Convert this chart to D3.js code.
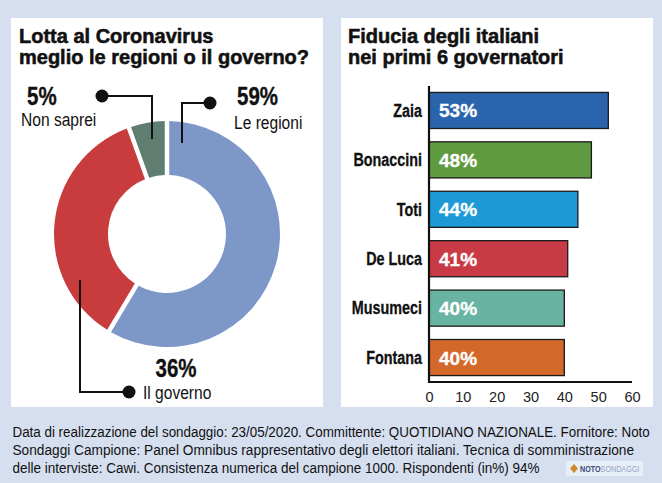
<!DOCTYPE html>
<html><head><meta charset="utf-8">
<script src="https://cdn.jsdelivr.net/npm/d3@7"></script>
<style>
html,body{margin:0;padding:0;background:#d6dff0;}
svg{display:block;}
</style></head>
<body>
<svg id="c" width="662" height="483"></svg>
<script>
// ---- data ----
const donutLabels = ["Le regioni", "Il governo", "Non saprei"];
const donutValues = [59, 36, 5];
const donutColors = ["#7d97c9", "#c83c3e", "#5f7d70"];

const barNames = ["Zaia", "Bonaccini", "Toti", "De Luca", "Musumeci", "Fontana"];
const barValues = [53, 48, 44, 41, 40, 40];
const barColors = ["#2a64ad", "#5e9a3f", "#1d9ad6", "#c93b44", "#69b3a2", "#d3682b"];
const xTicks = [0, 10, 20, 30, 40, 50, 60];

const leftTitle = ["Lotta al Coronavirus", "meglio le regioni o il governo?"];
const rightTitle = ["Fiducia degli italiani", "nei primi 6 governatori"];
const footerLines = [
  "Data di realizzazione del sondaggio: 23/05/2020. Committente: QUOTIDIANO NAZIONALE. Fornitore: Noto",
  "Sondaggi Campione: Panel Omnibus rappresentativo degli elettori italiani. Tecnica di somministrazione",
  "delle interviste: Cawi.  Consistenza numerica del campione 1000. Rispondenti (in%) 94%"
];

const SANS = "'Liberation Sans',Arial,sans-serif";
const NARROW_K = 0.82; // horizontal squeeze that turns Arial metrics into a narrow face

const svg = d3.select("#c");
svg.append("rect").attr("width", 662).attr("height", 483).attr("fill", "#d6dff0");

// panels
svg.append("rect").attr("x", 11).attr("y", 18).attr("width", 312).attr("height", 389).attr("fill", "#fff");
svg.append("rect").attr("x", 341).attr("y", 18).attr("width", 312).attr("height", 389).attr("fill", "#fff");

// narrow text helper: text drawn at origin, then squeezed horizontally
function narrow(parent, x, y, str, size, bold, anchor, k) {
  const t = parent.append("text")
    .attr("transform", `translate(${x},${y}) scale(${k || NARROW_K},1)`)
    .attr("font-family", SANS).attr("font-size", size)
    .attr("font-weight", bold ? "bold" : "normal")
    .attr("text-anchor", anchor || "start").attr("fill", "#111")
    .text(str);
  if (bold) t.attr("stroke", "#111").attr("stroke-width", 0.35);
  return t;
}

function title(lines, x) {
  svg.append("g").selectAll("text").data(lines).join("text")
    .attr("x", x).attr("y", (d, i) => 43 + i * 20.5)
    .attr("font-family", SANS).attr("font-weight", "bold").attr("font-size", 20)
    .attr("fill", "#111").attr("stroke", "#111").attr("stroke-width", 0.55)
    .text(d => d);
}
title(leftTitle, 19);
title(rightTitle, 348);

// ---- donut ----
const cx = 167, cy = 234;
const pie = d3.pie().sort(null).value(d => d).padAngle(0.035);
const arc = d3.arc().innerRadius(59).outerRadius(113);
const dg = svg.append("g").attr("transform", `translate(${cx},${cy})`);
dg.selectAll("path").data(pie(donutValues)).join("path")
  .attr("d", arc).attr("fill", (d, i) => donutColors[i]);

// leader lines
const lg = svg.append("g").attr("fill", "none").attr("stroke", "#111").attr("stroke-width", 2);
lg.append("path").attr("d", "M102,96 H152 V139");
lg.append("path").attr("d", "M210,103 H182 V143");
lg.append("path").attr("d", "M80,280 V392 H129");
svg.append("g").selectAll("circle").data([[102, 96], [210, 103], [129, 392]]).join("circle")
  .attr("cx", d => d[0]).attr("cy", d => d[1]).attr("r", 6.5).attr("fill", "#111");

// donut labels
narrow(svg, 27, 105, donutValues[2] + "%", 25, true);
narrow(svg, 21, 126, donutLabels[2], 19, false);
narrow(svg, 237, 105, donutValues[0] + "%", 25, true);
narrow(svg, 234, 129, donutLabels[0], 19, false);
narrow(svg, 176, 377, donutValues[1] + "%", 25, true, "middle");
narrow(svg, 143, 399, donutLabels[1], 19, false);

// ---- bars ----
const x = d3.scaleLinear().domain([0, 60]).range([429, 632]);
const y = d3.scaleBand().domain(barNames).range([86, 382]).paddingInner(0.27).paddingOuter(0.13);

const bg = svg.append("g");
bg.selectAll("rect").data(barNames).join("rect")
  .attr("x", x(0)).attr("y", d => y(d))
  .attr("width", (d, i) => x(barValues[i]) - x(0)).attr("height", y.bandwidth())
  .attr("fill", (d, i) => barColors[i]).attr("stroke", "#1a1a1a").attr("stroke-width", 1.3);
bg.selectAll("text.v").data(barNames).join("text").attr("class", "v")
  .attr("x", x(0) + 10).attr("y", d => y(d) + y.bandwidth() / 2 + 7)
  .attr("font-family", SANS).attr("font-weight", "bold").attr("font-size", 19)
  .attr("fill", "#fff").attr("stroke", "#fff").attr("stroke-width", 0.3)
  .text((d, i) => barValues[i] + "%");

// y axis
const ya = svg.append("g").attr("transform", `translate(${x(0)},0)`)
  .call(d3.axisLeft(y).tickSize(0).tickPadding(7));
ya.select(".domain").attr("stroke", "#111").attr("stroke-width", 2.2).attr("d", "M0,86V383");
ya.selectAll(".tick text").attr("font-family", SANS).attr("font-weight", "bold")
  .attr("font-size", 17.5).attr("fill", "#111").attr("stroke", "#111").attr("stroke-width", 0.3)
  .attr("dy", "0.36em").attr("x", -7 / NARROW_K)
  .attr("transform", `scale(${NARROW_K},1)`);

// x axis
const xa = svg.append("g").attr("transform", "translate(0,382)")
  .call(d3.axisBottom(x).tickValues(xTicks).tickSize(0).tickPadding(10));
xa.select(".domain").attr("stroke", "#111").attr("stroke-width", 2.2).attr("d", "M428,0H632");
xa.selectAll("text").attr("font-family", SANS).attr("font-size", 14.5).attr("fill", "#222");

// ---- footer ----
const fw = [638, 622, 528];
const fg = svg.append("g");
footerLines.forEach((line, i) => {
  const t = narrow(fg, 12.5, 437 + i * 18, line, 15.5, false, "start", 1);
  const w = t.node().getComputedTextLength();
  t.attr("transform", `translate(12.5,${437 + i * 18}) scale(${fw[i] / w},1)`);
});

// logo
const logo = svg.append("g").attr("transform", "translate(566,461)");
logo.append("rect").attr("width", 77).attr("height", 15).attr("fill", "#e8eef8");
logo.append("path").attr("d", "M4,7.5 L8,3 L12,7.5 L8,12 Z").attr("fill", "#d08a2a");
const lt = logo.append("text").attr("transform", "translate(14,11) scale(0.8,1)")
  .attr("font-family", SANS).attr("font-size", 9);
lt.append("tspan").attr("font-weight", "bold").attr("fill", "#3a4a7a").text("NOTO");
lt.append("tspan").attr("fill", "#8fa3c8").text("SONDAGGI");
</script>
</body></html>
